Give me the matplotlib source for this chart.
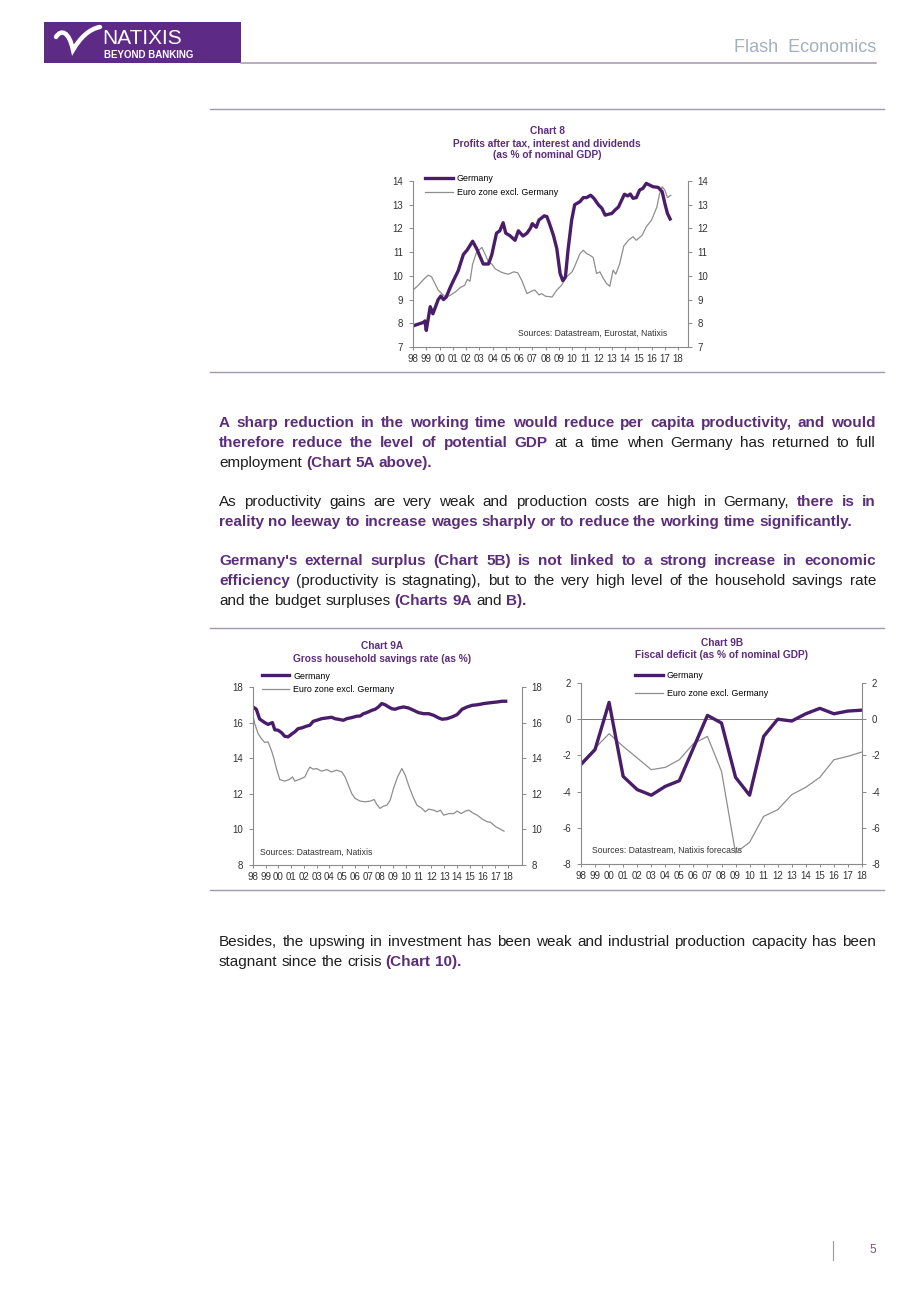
import numpy as np
import matplotlib
matplotlib.use("Agg")
import matplotlib.pyplot as plt
from matplotlib.lines import Line2D
from matplotlib.patches import Rectangle, PathPatch
from matplotlib.path import Path
from matplotlib.font_manager import FontProperties

plt.rcParams["font.family"] = ["Liberation Sans", "DejaVu Sans"]
plt.rcParams["axes.unicode_minus"] = False

W, H = 920, 1302
PURPLE = "#5c2d7a"
DE_COL = "#4a1d6a"
EZ_COL = "#8e8e8e"
AX_COL = "#8a8a8a"
RULE_COL = "#a398ad"

# ============================== Data

X_LABELS = ["98", "99", "00", "01", "02", "03", "04", "05", "06", "07", "08",
            "09", "10", "11", "12", "13", "14", "15", "16", "17", "18"]
LABEL_YEARS = np.arange(1998, 2019)

# Chart 8 : profits after tax (% GDP)
C8_DE_T = [1998.0, 1998.8, 1998.9, 1999.0, 1999.3, 1999.5, 1999.9, 2000.1, 2000.3, 2000.5,
           2000.8, 2001.05, 2001.4, 2001.8, 2002.1, 2002.5, 2002.8, 2003.3, 2003.7, 2003.95,
           2004.3, 2004.55, 2004.8, 2005.0, 2005.3, 2005.7, 2005.95, 2006.3, 2006.6, 2006.85,
           2007.0, 2007.3, 2007.5, 2007.9, 2008.1, 2008.3, 2008.6, 2008.85, 2009.1, 2009.3,
           2009.5, 2009.7, 2009.97, 2010.2, 2010.6, 2010.85, 2011.1, 2011.4, 2011.65, 2012.0,
           2012.25, 2012.5, 2012.75, 2013.0, 2013.25, 2013.5, 2013.75, 2013.95, 2014.2, 2014.4,
           2014.6, 2014.85, 2015.1, 2015.35, 2015.6, 2015.85, 2016.1, 2016.5, 2016.8, 2017.0,
           2017.2, 2017.4]
C8_DE_V = [7.89, 8.04, 8.1, 7.7, 8.7, 8.4, 9.0, 9.15, 9.0, 9.1,
           9.5, 9.8, 10.2, 10.9, 11.1, 11.46, 11.15, 10.5, 10.5, 10.9,
           11.8, 11.9, 12.24, 11.8, 11.7, 11.5, 11.9, 11.68, 11.8, 12.0,
           12.2, 12.05, 12.35, 12.53, 12.5, 12.2, 11.7, 11.15, 10.1, 9.8,
           9.95, 11.1, 12.35, 13.0, 13.13, 13.3, 13.3, 13.4, 13.27, 12.99,
           12.85, 12.56, 12.6, 12.63, 12.78, 12.9, 13.2, 13.44, 13.37, 13.45,
           13.27, 13.3, 13.62, 13.69, 13.9, 13.83, 13.76, 13.73, 13.55, 13.06,
           12.63, 12.4]
C8_EZ_T = [1998.0, 1998.4, 1998.8, 1999.15, 1999.4, 1999.65, 1999.9, 2000.3, 2000.5, 2000.8,
           2001.2, 2001.55, 2001.9, 2002.1, 2002.3, 2002.5, 2002.8, 2003.2, 2003.45, 2003.7,
           2003.95, 2004.2, 2004.6, 2004.95, 2005.2, 2005.6, 2005.9, 2006.2, 2006.6, 2007.0,
           2007.2, 2007.5, 2007.7, 2008.0, 2008.5, 2008.85, 2009.2, 2009.6, 2010.0, 2010.2,
           2010.6, 2010.85, 2011.1, 2011.35, 2011.6, 2011.85, 2012.1, 2012.35, 2012.6, 2012.85,
           2013.1, 2013.3, 2013.6, 2013.9, 2014.25, 2014.6, 2014.85, 2015.3, 2015.6, 2016.0,
           2016.4, 2016.6, 2016.8, 2017.0, 2017.2, 2017.45]
C8_EZ_V = [9.4, 9.6, 9.85, 10.03, 9.96, 9.68, 9.4, 9.18, 9.1, 9.18,
           9.32, 9.5, 9.6, 9.85, 9.77, 10.5, 11.0, 11.2, 10.9, 10.57,
           10.5, 10.3, 10.17, 10.1, 10.07, 10.17, 10.13, 9.82, 9.25, 9.37,
           9.4, 9.2, 9.25, 9.14, 9.11, 9.4, 9.6, 9.96, 10.17, 10.4,
           10.94, 11.08, 10.94, 10.87, 10.77, 10.1, 10.17, 9.9, 9.68, 9.56,
           10.24, 10.07, 10.52, 11.25, 11.5, 11.65, 11.5, 11.72, 12.07, 12.35,
           12.9, 13.45, 13.76, 13.62, 13.3, 13.4]

# Chart 9A : gross household savings rate (%)
C9A_DE_T = [1998.0, 1998.26, 1998.52, 1998.92, 1999.18, 1999.52, 1999.71, 1999.97, 2000.23, 2000.49,
            2000.76, 2001.02, 2001.28, 2001.54, 2001.81, 2002.2, 2002.46, 2002.72, 2002.99, 2003.38,
            2003.77, 2004.17, 2004.43, 2004.82, 2005.09, 2005.35, 2005.74, 2006.14, 2006.4, 2006.66,
            2006.92, 2007.32, 2007.58, 2007.84, 2008.1, 2008.37, 2008.63, 2008.89, 2009.15, 2009.42,
            2009.81, 2010.2, 2010.6, 2010.99, 2011.39, 2011.78, 2012.17, 2012.57, 2012.83, 2013.22,
            2013.62, 2014.01, 2014.4, 2014.8, 2015.19, 2015.59, 2016.11, 2016.64, 2017.16, 2017.55,
            2017.82]
C9A_DE_V = [16.88, 16.75, 16.2, 16.0, 15.9, 16.0, 15.6, 15.57, 15.44, 15.23,
            15.2, 15.35, 15.48, 15.66, 15.7, 15.8, 15.85, 16.07, 16.13, 16.22,
            16.26, 16.3, 16.22, 16.17, 16.13, 16.22, 16.28, 16.36, 16.37, 16.5,
            16.56, 16.69, 16.75, 16.88, 17.07, 17.0, 16.88, 16.78, 16.75, 16.82,
            16.88, 16.82, 16.69, 16.56, 16.5, 16.5, 16.41, 16.26, 16.19, 16.22,
            16.32, 16.45, 16.75, 16.88, 16.97, 17.0, 17.07, 17.12, 17.16, 17.2,
            17.2]
C9A_EZ_T = [1998.0, 1998.13, 1998.39, 1998.66, 1998.92, 1999.18, 1999.44, 1999.63, 1999.84, 2000.1,
            2000.49, 2000.89, 2001.1, 2001.28, 2001.67, 2002.07, 2002.25, 2002.46, 2002.72, 2002.99,
            2003.38, 2003.77, 2004.17, 2004.56, 2004.96, 2005.22, 2005.48, 2005.74, 2006.01, 2006.4,
            2006.79, 2007.19, 2007.5, 2007.71, 2007.97, 2008.24, 2008.5, 2008.76, 2009.02, 2009.34,
            2009.68, 2009.94, 2010.2, 2010.55, 2010.86, 2011.25, 2011.52, 2011.78, 2012.17, 2012.44,
            2012.7, 2012.96, 2013.36, 2013.75, 2014.01, 2014.33, 2014.67, 2014.93, 2015.32, 2015.59,
            2015.98, 2016.37, 2016.64, 2017.03, 2017.29, 2017.69]
C9A_EZ_V = [16.4, 15.95, 15.4, 15.1, 14.88, 14.92, 14.45, 14.0, 13.42, 12.8,
            12.71, 12.82, 12.95, 12.71, 12.82, 12.95, 13.23, 13.5, 13.38, 13.42,
            13.27, 13.36, 13.23, 13.33, 13.23, 12.95, 12.49, 12.02, 11.74, 11.59,
            11.55, 11.59, 11.68, 11.4, 11.18, 11.31, 11.36, 11.64, 12.3, 12.95,
            13.42, 13.05, 12.49, 11.83, 11.36, 11.18, 10.99, 11.14, 11.08, 10.99,
            11.08, 10.8, 10.89, 10.89, 11.03, 10.89, 11.03, 11.08, 10.89, 10.8,
            10.58, 10.43, 10.4, 10.15, 10.06, 9.9]

# Chart 9B : fiscal deficit (% GDP), annual 1998-2018
C9B_YEARS = np.arange(1998, 2019)
C9B_DE = [-2.5, -1.68, 0.93, -3.16, -3.89, -4.2, -3.71, -3.4, -1.59, 0.21, -0.21,
          -3.21, -4.2, -0.95, 0.0, -0.1, 0.3, 0.6, 0.3, 0.45, 0.5]
C9B_EZ = [-2.42, -1.6, -0.8, -1.5, -2.14, -2.79, -2.66, -2.24, -1.35, -0.95, -2.88,
          -7.39, -6.8, -5.37, -5.0, -4.17, -3.76, -3.21, -2.24, -2.05, -1.81]

# Texte du corps : (y centre, justifié, [(texte, gras)])
BODY = [
    (422, True, [("A sharp reduction in the working time would reduce per capita productivity, and would", True)]),
    (442, True, [("therefore reduce the level of potential GDP", True),
                 ("at a time when Germany has returned to full", False)]),
    (462, False, [("employment", False), ("(Chart 5A above).", True)]),
    (501, True, [("As productivity gains are very weak and production costs are high in Germany,", False),
                 ("there is in", True)]),
    (521, False, [("reality no leeway to increase wages sharply or to reduce the working time significantly.", True)]),
    (560, True, [("Germany's external surplus (Chart 5B) is not linked to a strong increase in economic", True)]),
    (580, True, [("efficiency", True),
                 ("(productivity is stagnating), but to the very high level of the household savings rate", False)]),
    (600, False, [("and the budget surpluses", False), ("(Charts 9A", True), ("and", False), ("B).", True)]),
    (941, True, [("Besides, the upswing in investment has been weak and industrial production capacity has been", False)]),
    (961, False, [("stagnant since the crisis", False), ("(Chart 10).", True)]),
]
TEXT_X0, TEXT_X1 = 219, 876
BODY_SIZE = 11


# ============================== Helpers

def px_rect(x0, y0, x1, y1):
    """Rectangle en pixels (origine en haut) -> coords figure."""
    return [x0 / W, 1 - y1 / H, (x1 - x0) / W, (y1 - y0) / H]


def style_axes(ax, xmax, ylim, yticks):
    ax.set_facecolor("none")
    ax.set_xlim(1998, xmax)
    ax.set_ylim(*ylim)
    ax.set_yticks(yticks)
    ax.set_xticks(LABEL_YEARS)
    ax.set_xticklabels(X_LABELS)
    ax.spines["top"].set_visible(False)
    for s in ("left", "right", "bottom"):
        ax.spines[s].set_color(AX_COL)
        ax.spines[s].set_linewidth(0.8)
    ax.tick_params(axis="y", left=True, right=True, labelleft=True, labelright=True,
                   direction="out", length=3, width=0.7, color=AX_COL,
                   labelsize=7, labelcolor="#333333", pad=4)
    ax.tick_params(axis="x", direction="out", length=2.5, width=0.7, color=AX_COL,
                   labelsize=7, labelcolor="#333333", pad=2.5)


def add_legend(ax, anchor, spacing):
    handles = [Line2D([], [], color=DE_COL, lw=2.4),
               Line2D([], [], color=EZ_COL, lw=0.9)]
    ax.legend(handles, ["Germany", "Euro zone excl. Germany"], loc="upper left",
              bbox_to_anchor=anchor, frameon=False, fontsize=6.4, handlelength=3.1,
              handletextpad=0.45, labelspacing=spacing, borderaxespad=0, borderpad=0)


# ============================== Figure

fig = plt.figure(figsize=(W / 100, H / 100), dpi=100)
pg = fig.add_axes([0, 0, 1, 1])
pg.set_xlim(0, W)
pg.set_ylim(H, 0)
pg.axis("off")

# ------------------------- En-tête
pg.add_patch(Rectangle((44, 22), 197, 41, facecolor="#5d2a85", edgecolor="none"))
swoosh = Path([(56, 37), (61, 29), (69, 31), (73, 50), (80, 38), (89, 29), (100, 27)],
              [Path.MOVETO, Path.CURVE4, Path.CURVE4, Path.CURVE4,
               Path.CURVE4, Path.CURVE4, Path.CURVE4])
pg.add_patch(PathPatch(swoosh, facecolor="none", edgecolor="white", lw=3.2, capstyle="round"))
pg.text(102, 38, "NATIXIS", color="white", fontsize=15, va="center", ha="left")
pg.text(104, 54.5, "BEYOND BANKING", color="white", fontsize=7, fontweight="bold",
        va="center", ha="left")
pg.text(876, 48, "Flash  Economics", color="#a3b1bd", fontsize=13, va="center", ha="right")
pg.plot([241, 876], [63, 63], color=RULE_COL, lw=1.1)

for y in (109, 372, 628, 890):
    pg.plot([210, 884], [y, y], color=RULE_COL, lw=1.0)

# ------------------------- Chart 8
ax8 = fig.add_axes(px_rect(413, 181, 688, 347))
ax8.plot(C8_EZ_T, C8_EZ_V, color=EZ_COL, lw=0.9)
ax8.plot(C8_DE_T, C8_DE_V, color=DE_COL, lw=2.4)
style_axes(ax8, 2018.75, (7, 14), np.arange(7, 15, 1))
add_legend(ax8, (0.044, 1.04), 0.55)
for i, line in enumerate(["Chart 8", "Profits after tax, interest and dividends",
                          "(as % of nominal GDP)"]):
    pg.text(547, 131 + 12 * i, line, color=PURPLE, fontsize=7.3, fontweight="bold",
            ha="center", va="center")
pg.text(667, 333, "Sources: Datastream, Eurostat, Natixis", fontsize=6.2,
        color="#333333", ha="right", va="center")

# ------------------------- Chart 9A
ax9a = fig.add_axes(px_rect(253, 687, 522, 865))
ax9a.plot(C9A_EZ_T, C9A_EZ_V, color=EZ_COL, lw=0.9)
ax9a.plot(C9A_DE_T, C9A_DE_V, color=DE_COL, lw=2.4)
style_axes(ax9a, 2019.1, (8, 18), np.arange(8, 19, 2))
add_legend(ax9a, (0.033, 1.087), 0.55)
for i, line in enumerate(["Chart 9A", "Gross household savings rate (as %)"]):
    pg.text(382, 646 + 13 * i, line, color=PURPLE, fontsize=7.3, fontweight="bold",
            ha="center", va="center")
pg.text(260, 852, "Sources: Datastream, Natixis", fontsize=6.2,
        color="#333333", ha="left", va="center")

# ------------------------- Chart 9B
ax9b = fig.add_axes(px_rect(581, 683, 862, 864))
ax9b.axhline(0, color="#7a7a7a", lw=0.7)
ax9b.plot(C9B_YEARS, C9B_EZ, color=EZ_COL, lw=0.9)
ax9b.plot(C9B_YEARS, C9B_DE, color=DE_COL, lw=2.4)
style_axes(ax9b, 2018, (-8, 2), np.arange(-8, 3, 2))
add_legend(ax9b, (0.192, 1.064), 0.95)
for i, line in enumerate(["Chart 9B", "Fiscal deficit (as % of nominal GDP)"]):
    pg.text(722, 643 + 12 * i, line, color=PURPLE, fontsize=7.3, fontweight="bold",
            ha="center", va="center")
pg.text(592, 850, "Sources: Datastream, Natixis forecasts", fontsize=6.2,
        color="#333333", ha="left", va="center")

# ------------------------- Texte justifié
renderer = fig.canvas.get_renderer()
fp_reg = FontProperties(family="Liberation Sans", size=BODY_SIZE)
fp_bold = FontProperties(family="Liberation Sans", weight="bold", size=BODY_SIZE)


def text_w(s, fp):
    w, _, _ = renderer.get_text_width_height_descent(s, fp, ismath=False)
    return w


space_w = text_w("a a", fp_reg) - text_w("aa", fp_reg)

for y, justify, segments in BODY:
    words = [(w, bold) for txt, bold in segments for w in txt.split()]
    widths = [text_w(w, fp_bold if b else fp_reg) for w, b in words]
    if justify and len(words) > 1:
        gap = (TEXT_X1 - TEXT_X0 - sum(widths)) / (len(words) - 1)
    else:
        gap = space_w
    x = TEXT_X0
    for (w, b), wd in zip(words, widths):
        pg.text(x, y + 5, w, fontproperties=fp_bold if b else fp_reg,
                color=PURPLE if b else "#1e1e1e", ha="left", va="baseline")
        x += wd + gap

# ------------------------- Pied de page
pg.plot([833, 833], [1241, 1260], color="#9a9a9a", lw=0.8)
pg.text(873, 1250, "5", fontsize=8.5, color="#6b5a80", ha="center", va="center")

fig.savefig("out.png", dpi=100)
